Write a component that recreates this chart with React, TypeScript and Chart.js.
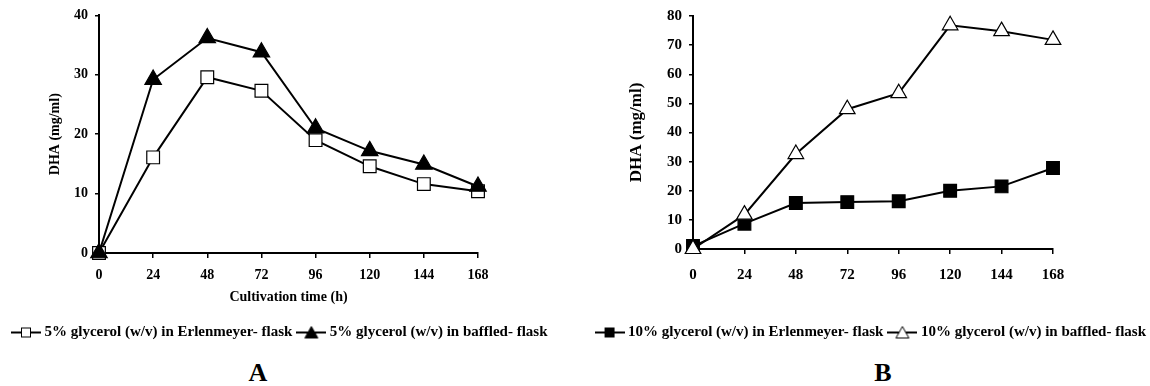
import React, { useEffect, useRef } from 'react';
import { Chart, registerables } from 'chart.js';

Chart.register(...registerables);

// ---- data ----
const times = ['0', '24', '48', '72', '96', '120', '144', '168'];

// Panel A (5% glycerol)
const erlenmeyer5 = [0, 16.1, 29.6, 27.3, 19.0, 14.6, 11.6, 10.4];
const baffled5 = [0, 29.2, 36.2, 33.8, 21.0, 17.2, 14.9, 11.2];

// Panel B (10% glycerol)
const erlenmeyer10 = [1, 8.7, 15.8, 16.1, 16.4, 20.0, 21.5, 27.8];
const baffled10 = [0, 11.8, 32.6, 48.0, 53.5, 76.8, 74.8, 71.8];

const labelsA = ['5% glycerol (w/v) in Erlenmeyer- flask', '5% glycerol (w/v) in baffled- flask'];
const labelsB = ['10% glycerol (w/v) in Erlenmeyer- flask', '10% glycerol (w/v) in baffled- flask'];

const yRangeA = [0, 40];
const yRangeB = [0, 80];
const yStep = 10;

const FONT = '"Liberation Serif", "Times New Roman", serif';

function legendIcon(kind: 'square' | 'triangle', filled: boolean): HTMLCanvasElement {
  const c = document.createElement('canvas');
  c.width = 30;
  c.height = 16;
  const g = c.getContext('2d')!;
  g.strokeStyle = '#000';
  g.lineWidth = 2;
  g.beginPath();
  g.moveTo(0, 8);
  g.lineTo(30, 8);
  g.stroke();
  g.fillStyle = filled ? '#000' : '#fff';
  g.lineWidth = 1;
  if (kind === 'square') {
    g.fillRect(10.5, 3.5, 9, 9);
    g.strokeRect(10.5, 3.5, 9, 9);
  } else {
    g.beginPath();
    g.moveTo(15, 2);
    g.lineTo(21.5, 13.5);
    g.lineTo(8.5, 13.5);
    g.closePath();
    g.fill();
    g.stroke();
  }
  return c;
}

function baseScaleX(tickSize: number, tickPad: number, height: number, title?: string) {
  return {
    type: 'category',
    offset: false,
    grid: { drawOnChartArea: false, tickLength: 5, color: '#000', lineWidth: 1.5 },
    border: { color: '#000', width: 2 },
    ticks: {
      color: '#000',
      font: { family: FONT, size: tickSize, weight: 'bold' },
      padding: tickPad,
      maxRotation: 0,
      autoSkip: false,
    },
    title: title
      ? {
          display: true,
          text: title,
          color: '#000',
          font: { family: FONT, size: 14, weight: 'bold' },
          padding: { top: 0, bottom: 11 },
        }
      : { display: false },
    afterFit: (s: any) => {
      s.height = height;
    },
  };
}

function baseScaleY(
  range: number[],
  tickSize: number,
  tickPad: number,
  width: number,
  titleSize: number,
  titlePad: number
) {
  return {
    type: 'linear',
    position: 'left',
    min: range[0],
    max: range[1],
    grid: { drawOnChartArea: false, tickLength: 4, color: '#000', lineWidth: 1.5 },
    border: { color: '#000', width: 2 },
    ticks: {
      stepSize: yStep,
      color: '#000',
      font: { family: FONT, size: tickSize, weight: 'bold' },
      padding: tickPad,
    },
    title: {
      display: true,
      text: 'DHA (mg/ml)',
      color: '#000',
      font: { family: FONT, size: titleSize, weight: 'bold' },
      padding: { top: titlePad, bottom: 0 },
    },
    afterFit: (s: any) => {
      s.width = width;
    },
  };
}

function padScale(width: number) {
  return {
    type: 'linear',
    position: 'right',
    display: true,
    grid: { display: false },
    border: { display: false },
    ticks: { display: false },
    afterFit: (s: any) => {
      s.width = width;
    },
  };
}

function lineDs(label: string, data: number[], style: string, radius: number, filled: boolean) {
  return {
    label,
    data,
    borderColor: '#000',
    borderWidth: 2,
    tension: 0,
    pointStyle: style,
    pointRadius: radius,
    pointHoverRadius: radius,
    pointBackgroundColor: filled ? '#000' : '#fff',
    pointBorderColor: '#000',
    pointBorderWidth: 1.2,
    clip: false,
  };
}

export default function App() {
  const refA = useRef<HTMLCanvasElement>(null);
  const refB = useRef<HTMLCanvasElement>(null);

  useEffect(() => {
    const iconSqOpen = legendIcon('square', false);
    const iconTriFill = legendIcon('triangle', true);
    const iconSqFill = legendIcon('square', true);
    const iconTriOpen = legendIcon('triangle', false);

    const legendLabels = (align: string, items: { text: string; icon: HTMLCanvasElement; idx: number }[]) => ({
      position: 'bottom',
      align,
      labels: {
        usePointStyle: true,
        pointStyleWidth: 22,
        padding: 8,
        color: '#000',
        font: { family: FONT, size: 15, weight: 'bold' },
        generateLabels: () =>
          items.map((it) => ({
            text: it.text,
            pointStyle: it.icon,
            fillStyle: '#000',
            strokeStyle: '#000',
            lineWidth: 1,
            hidden: false,
            datasetIndex: it.idx,
            fontColor: '#000',
          })),
      },
    });

    const chartA = new Chart(refA.current!, {
      type: 'line',
      data: {
        labels: times,
        datasets: [
          lineDs(labelsA[1], baffled5, 'triangle', 9.5, true),
          lineDs(labelsA[0], erlenmeyer5, 'rect', 9, false),
        ] as any,
      },
      options: {
        animation: false,
        responsive: false,
        events: [],
        layout: { padding: { left: 7, top: 15, right: 0, bottom: 0 } },
        plugins: {
          tooltip: { enabled: false },
          legend: legendLabels('start', [
            { text: labelsA[0], icon: iconSqOpen, idx: 1 },
            { text: labelsA[1], icon: iconTriFill, idx: 0 },
          ]) as any,
        },
        scales: {
          x: baseScaleX(14, 9, 64, 'Cultivation time (h)') as any,
          y: baseScaleY(yRangeA, 14, 7, 92, 14, 39.6) as any,
          yPad: padScale(102) as any,
        },
      },
    });

    const chartB = new Chart(refB.current!, {
      type: 'line',
      data: {
        labels: times,
        datasets: [
          lineDs(labelsB[1], baffled10, 'triangle', 9, false),
          lineDs(labelsB[0], erlenmeyer10, 'rect', 9, true),
        ] as any,
      },
      options: {
        animation: false,
        responsive: false,
        events: [],
        layout: { padding: { left: 0, top: 15, right: -4, bottom: 0 } },
        plugins: {
          tooltip: { enabled: false },
          legend: legendLabels('end', [
            { text: labelsB[0], icon: iconSqFill, idx: 1 },
            { text: labelsB[1], icon: iconTriOpen, idx: 0 },
          ]) as any,
        },
        scales: {
          x: baseScaleX(15, 12, 68) as any,
          y: baseScaleY(yRangeB, 15, 7, 113, 17, 46.8) as any,
          yPad: padScale(101) as any,
        },
      },
    });

    return () => {
      chartA.destroy();
      chartB.destroy();
    };
  }, []);

  const panelLabel: React.CSSProperties = {
    position: 'absolute',
    top: 358,
    width: 100,
    height: 30,
    lineHeight: '30px',
    textAlign: 'center',
    fontFamily: FONT,
    fontWeight: 'bold',
    fontSize: 26,
    color: '#000',
  };

  return (
    <div
      style={{
        position: 'absolute',
        left: 0,
        top: 0,
        width: 1150,
        height: 386,
        overflow: 'hidden',
        background: '#fff',
      }}
    >
      <canvas
        ref={refA}
        width={580}
        height={350}
        style={{ position: 'absolute', left: 0, top: 0, width: 580, height: 350 }}
      />
      <canvas
        ref={refB}
        width={570}
        height={350}
        style={{ position: 'absolute', left: 580, top: 0, width: 570, height: 350 }}
      />
      <div style={{ ...panelLabel, left: 258 - 50 }}>A</div>
      <div style={{ ...panelLabel, left: 883 - 50 }}>B</div>
    </div>
  );
}
